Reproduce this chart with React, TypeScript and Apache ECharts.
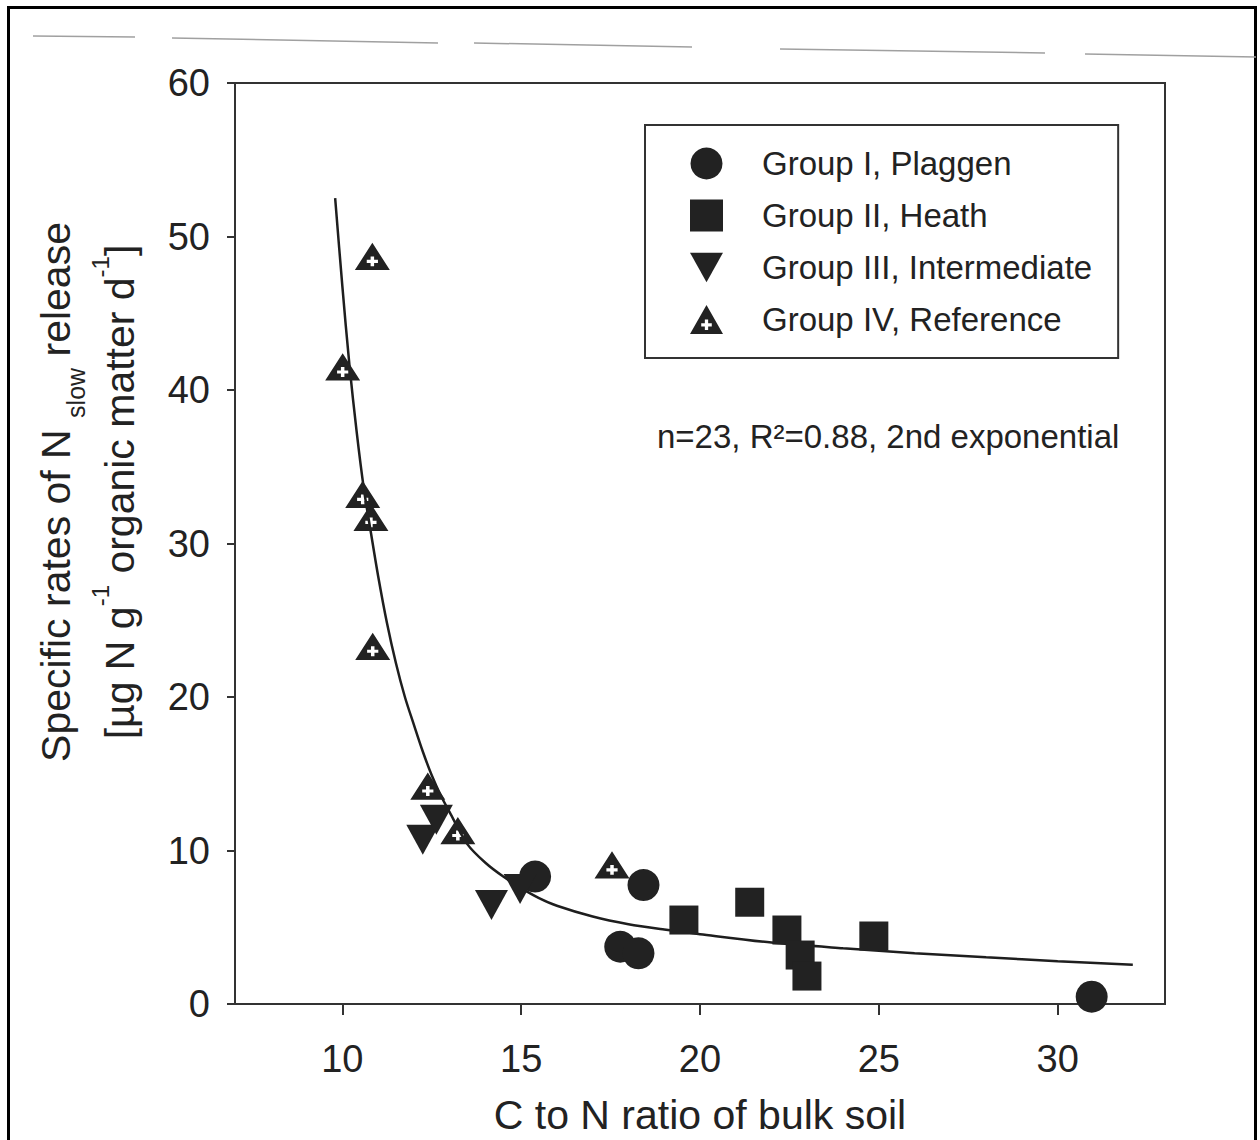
import React, { useEffect, useRef } from "react";
import * as echarts from "echarts";

// ---- data ----
const xTickValues = [10, 15, 20, 25, 30];

const groupI: [number, number][] = [
  [15.39, 8.3],
  [18.42, 7.75],
  [17.77, 3.73],
  [18.28, 3.3],
  [30.95, 0.48],
];

const groupII: [number, number][] = [
  [19.55, 5.47],
  [21.39, 6.63],
  [22.43, 4.82],
  [22.8, 3.19],
  [22.99, 1.82],
  [24.86, 4.43],
];

const groupIII: [number, number][] = [
  [12.25, 10.7],
  [12.63, 12.0],
  [14.17, 6.45],
  [14.97, 7.5],
];

const groupIV: [number, number][] = [
  [10.84, 48.7],
  [10.01, 41.5],
  [10.57, 33.2],
  [10.8, 31.7],
  [10.85, 23.3],
  [12.39, 14.2],
  [13.23, 11.3],
  [17.54, 9.06],
];

// fitted "2nd exponential" curve
const fitCurve: [number, number][] = [
  [9.8, 52.5],
  [10.0, 46.8],
  [10.2, 41.6],
  [10.4, 37.3],
  [10.6, 33.6],
  [10.8, 30.7],
  [11.0, 27.9],
  [11.25, 24.8],
  [11.5, 22.2],
  [11.75, 20.0],
  [12.0, 18.2],
  [12.25, 16.45],
  [12.5, 14.9],
  [12.75, 13.6],
  [13.0, 12.5],
  [13.5, 10.4],
  [14.0, 9.2],
  [14.5, 8.3],
  [15.0, 7.55],
  [15.5, 6.9],
  [16.0, 6.4],
  [17.0, 5.7],
  [18.0, 5.2],
  [19.0, 4.85],
  [20.0, 4.55],
  [22.0, 4.0],
  [24.0, 3.63],
  [26.0, 3.31],
  [28.0, 3.04],
  [30.0, 2.79],
  [32.1, 2.55],
];

const seriesNames = [
  "Group I, Plaggen",
  "Group II, Heath",
  "Group III, Intermediate",
  "Group IV, Reference",
];

const FONT = "'Liberation Sans', Arial, Helvetica, sans-serif";
const INK = "#222222";

// triangle with a "+" hole (opposite winding)
const triPlus =
  "path://M50 0 L100 88 L0 88 Z M45 44 L45 55 L34 55 L34 65 L45 65 L45 76 L55 76 L55 65 L66 65 L66 55 L55 55 L55 44 Z";
const triDown = "path://M0 0 L100 0 L50 90 Z";

export default function App() {
  const ref = useRef<HTMLDivElement>(null);

  useEffect(() => {
    if (!ref.current) return;
    const chart = echarts.init(ref.current, null, { renderer: "svg" });

    const option: any = {
      animation: false,
      backgroundColor: "#ffffff",
      textStyle: { fontFamily: FONT },
      grid: {
        left: 235,
        top: 83,
        width: 930,
        height: 921,
        show: true,
        borderColor: "#333",
        borderWidth: 2,
        backgroundColor: "transparent",
      },
      legend: {
        data: [
          { name: seriesNames[0] },
          { name: seriesNames[1] },
          { name: seriesNames[2], icon: triDown },
          { name: seriesNames[3] },
        ],
        orient: "vertical",
        left: 645,
        top: 125,
        itemWidth: 33,
        itemHeight: 32,
        itemGap: 19,
        padding: [22, 26, 22, 45],
        borderColor: "#333",
        borderWidth: 2,
        formatter: (name: string) => `{t|${name}}`,
        textStyle: {
          fontSize: 33,
          color: INK,
          fontFamily: FONT,
          rich: {
            t: {
              fontSize: 33,
              color: INK,
              fontFamily: FONT,
              padding: [0, 0, 0, 34],
            },
          },
        },
        selectedMode: false,
      },
      xAxis: {
        type: "value",
        min: 7,
        max: 33,
        name: "C to N ratio of bulk soil",
        nameLocation: "middle",
        nameGap: 90,
        nameTextStyle: { fontSize: 41, color: INK, fontFamily: FONT },
        axisLine: { show: true, lineStyle: { color: "#333", width: 2 } },
        axisTick: {
          show: true,
          inside: false,
          length: 11,
          customValues: xTickValues,
          lineStyle: { color: "#333", width: 2 },
        },
        axisLabel: {
          customValues: xTickValues,
          fontSize: 38,
          color: INK,
          margin: 36,
          fontFamily: FONT,
        },
        splitLine: { show: false },
      },
      yAxis: {
        type: "value",
        min: 0,
        max: 60,
        interval: 10,
        axisLine: { show: true, lineStyle: { color: "#333", width: 2 } },
        axisTick: {
          show: true,
          inside: false,
          length: 8,
          lineStyle: { color: "#333", width: 2 },
        },
        axisLabel: { fontSize: 38, color: INK, margin: 25, fontFamily: FONT },
        splitLine: { show: false },
      },
      series: [
        {
          name: "fit",
          type: "line",
          data: fitCurve,
          smooth: 0.3,
          showSymbol: false,
          lineStyle: { color: "#1e1e1e", width: 2.5 },
          z: 1,
        },
        {
          name: seriesNames[0],
          type: "scatter",
          data: groupI,
          symbol: "circle",
          symbolSize: 32,
          itemStyle: { color: INK, opacity: 1 },
          z: 3,
        },
        {
          name: seriesNames[1],
          type: "scatter",
          data: groupII,
          symbol: "rect",
          symbolSize: 29,
          itemStyle: { color: INK, opacity: 1 },
          z: 3,
        },
        {
          name: seriesNames[2],
          type: "scatter",
          data: groupIII,
          symbol: "triangle",
          symbolRotate: 180,
          symbolSize: [33, 30],
          itemStyle: { color: INK, opacity: 1 },
          z: 3,
        },
        {
          name: seriesNames[3],
          type: "scatter",
          data: groupIV,
          symbol: triPlus,
          symbolKeepAspect: true,
          symbolSize: [35, 31],
          itemStyle: { color: INK, opacity: 1 },
          z: 3,
        },
      ],
      graphic: [
        {
          type: "rect",
          silent: true,
          shape: { x: 8.5, y: 7.5, width: 1247, height: 1200 },
          style: { fill: "none", stroke: "#000", lineWidth: 3 },
        },
        {
          type: "line",
          silent: true,
          shape: { x1: 33, y1: 36, x2: 135, y2: 37 },
          style: { stroke: "#a0a0a0", lineWidth: 1.5 },
        },
        {
          type: "line",
          silent: true,
          shape: { x1: 172, y1: 38, x2: 438, y2: 43 },
          style: { stroke: "#a0a0a0", lineWidth: 1.5 },
        },
        {
          type: "line",
          silent: true,
          shape: { x1: 474, y1: 43, x2: 692, y2: 47 },
          style: { stroke: "#a0a0a0", lineWidth: 1.5 },
        },
        {
          type: "line",
          silent: true,
          shape: { x1: 780, y1: 49, x2: 1045, y2: 53 },
          style: { stroke: "#a0a0a0", lineWidth: 1.5 },
        },
        {
          type: "line",
          silent: true,
          shape: { x1: 1085, y1: 54, x2: 1256, y2: 57 },
          style: { stroke: "#a0a0a0", lineWidth: 1.5 },
        },
        {
          type: "text",
          x: 657,
          y: 436,
          style: {
            text: "n=23, R²=0.88, 2nd exponential",
            fontSize: 33,
            fontFamily: FONT,
            fill: INK,
            align: "left",
            verticalAlign: "middle",
          },
        },
        {
          type: "text",
          x: 88,
          y: 492,
          rotation: Math.PI / 2,
          style: {
            text:
              "{a|Specific rates of N }{s|slow}{a| release}\n{a|[µg N g}{p|-1}{a| organic matter d}{p|-1}{a|]}",
            fill: INK,
            fontFamily: FONT,
            align: "center",
            verticalAlign: "middle",
            rich: {
              a: { fontSize: 41, lineHeight: 64, fontFamily: FONT, fill: INK },
              s: {
                fontSize: 25,
                lineHeight: 52,
                verticalAlign: "bottom",
                fontFamily: FONT,
                fill: INK,
              },
              p: {
                fontSize: 24,
                lineHeight: 34,
                verticalAlign: "top",
                fontFamily: FONT,
                fill: INK,
              },
            },
          },
        },
      ],
    };

    chart.setOption(option);
    return () => chart.dispose();
  }, []);

  return (
    <div
      ref={ref}
      style={{
        position: "fixed",
        left: 0,
        top: 0,
        width: 1260,
        height: 1140,
        background: "#fff",
      }}
    />
  );
}
